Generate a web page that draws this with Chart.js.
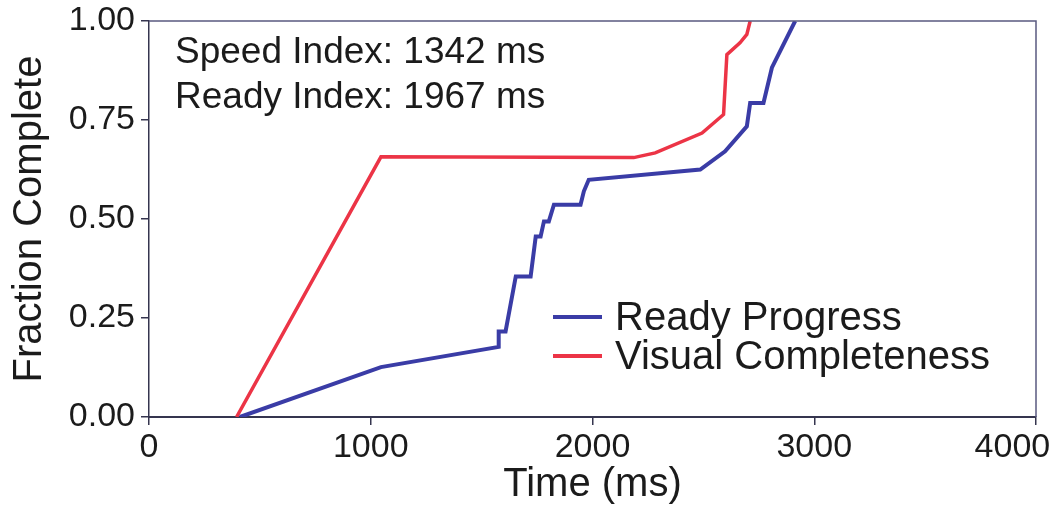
<!DOCTYPE html>
<html>
<head>
<meta charset="utf-8">
<script src="https://cdn.jsdelivr.net/npm/chart.js@4/dist/chart.umd.min.js"></script>
<style>
  html, body { margin: 0; padding: 0; background: #fff; }
  #wrap { width: 1057px; height: 509px; }
</style>
</head>
<body>
<div id="wrap"><canvas id="progress"></canvas></div>
<script>
const readyTimes = [410, 1046, 1577, 1577, 1608, 1654, 1721, 1744, 1766, 1781, 1803, 1826, 1946, 1961, 1983, 2486, 2598, 2696, 2711, 2771, 2809, 2914];
const readyFractions = [0, 0.126, 0.177, 0.216, 0.216, 0.355, 0.355, 0.456, 0.456, 0.494, 0.494, 0.536, 0.536, 0.57, 0.599, 0.625, 0.671, 0.734, 0.793, 0.793, 0.882, 1.0];

const visualTimes = [395, 1046, 2186, 2283, 2494, 2591, 2606, 2665, 2696, 2711];
const visualFractions = [0, 0.657, 0.655, 0.667, 0.717, 0.764, 0.915, 0.945, 0.966, 1.0];

const xTicks = [0, 1000, 2000, 3000, 4000];
const yTicks = [0, 0.25, 0.5, 0.75, 1];
const indexNotes = ["Speed Index: 1342 ms", "Ready Index: 1967 ms"];

const FONT = "'Liberation Sans', Arial, Helvetica, sans-serif";
const INK = "#1b1b1b";
const AXIS = "#35354f";

const toPoints = (xs, ys) => xs.map((x, i) => ({ x: x, y: ys[i] }));

// frame on top/right, index notes and the in-plot legend
const overlay = {
  id: "overlay",
  afterDatasetsDraw(chart) {
    const { ctx, chartArea: a } = chart;
    ctx.save();
    ctx.strokeStyle = "#5a5a80";
    ctx.lineWidth = 1.5;
    ctx.beginPath();
    ctx.moveTo(a.left, a.top);
    ctx.lineTo(a.right, a.top);
    ctx.lineTo(a.right, a.bottom);
    ctx.stroke();

    ctx.fillStyle = INK;
    ctx.font = "37px " + FONT;
    ctx.textBaseline = "alphabetic";
    ctx.textAlign = "left";
    indexNotes.forEach((t, i) => ctx.fillText(t, a.left + 26, a.top + 42 + i * 45));

    ctx.font = "40px " + FONT;
    ctx.textBaseline = "middle";
    chart.data.datasets.forEach((ds, i) => {
      const y = a.top + 296 + i * 39;
      ctx.strokeStyle = ds.borderColor;
      ctx.lineWidth = 4;
      ctx.beginPath();
      ctx.moveTo(a.left + 404, y);
      ctx.lineTo(a.left + 453, y);
      ctx.stroke();
      ctx.fillText(ds.label, a.left + 466, y + 2);
    });
    ctx.restore();
  },
};

new Chart(document.getElementById("progress"), {
  type: "line",
  data: {
    datasets: [
      {
        label: "Ready Progress",
        data: toPoints(readyTimes, readyFractions),
        borderColor: "#3a3ca6",
        borderWidth: 4,
        pointRadius: 0,
        tension: 0,
      },
      {
        label: "Visual Completeness",
        data: toPoints(visualTimes, visualFractions),
        borderColor: "#ec3446",
        borderWidth: 3.5,
        pointRadius: 0,
        tension: 0,
      },
    ],
  },
  options: {
    responsive: true,
    maintainAspectRatio: false,
    animation: false,
    layout: { padding: { top: 21, right: 21, left: 0, bottom: 0 } },
    plugins: {
      legend: { display: false },
      tooltip: { enabled: false },
    },
    scales: {
      x: {
        type: "linear",
        min: 0,
        max: 4000,
        afterBuildTicks: (s) => { s.ticks = xTicks.map((v) => ({ value: v })); },
        afterFit: (s) => { s.height = 92; s.paddingLeft = 0; s.paddingRight = 0; },
        ticks: {
          color: INK,
          font: { family: FONT, size: 34 },
          padding: 2,
          maxRotation: 0,
          // pad the last label so it stays inside the canvas
          callback: (v) => (v === 4000 ? "4000     " : String(v)),
        },
        grid: { drawOnChartArea: false, drawTicks: true, tickLength: 8, color: AXIS, lineWidth: 1.5 },
        border: { display: true, color: AXIS, width: 2 },
        title: {
          display: true,
          text: "Time (ms)",
          color: INK,
          font: { family: FONT, size: 40 },
          padding: { top: 0, bottom: 0 },
        },
      },
      y: {
        min: 0,
        max: 1,
        afterBuildTicks: (s) => { s.ticks = yTicks.map((v) => ({ value: v })); },
        afterFit: (s) => { s.width = 149; s.paddingTop = 0; s.paddingBottom = 0; },
        ticks: {
          color: INK,
          font: { family: FONT, size: 34 },
          padding: 6,
          callback: (v) => v.toFixed(2),
        },
        grid: { drawOnChartArea: false, drawTicks: true, tickLength: 8, color: AXIS, lineWidth: 1.5 },
        border: { display: true, color: AXIS, width: 1.5 },
        title: {
          display: true,
          text: "Fraction Complete",
          color: INK,
          font: { family: FONT, size: 40 },
          padding: { top: 6, bottom: 0 },
        },
      },
    },
  },
  plugins: [overlay],
});
</script>
</body>
</html>
